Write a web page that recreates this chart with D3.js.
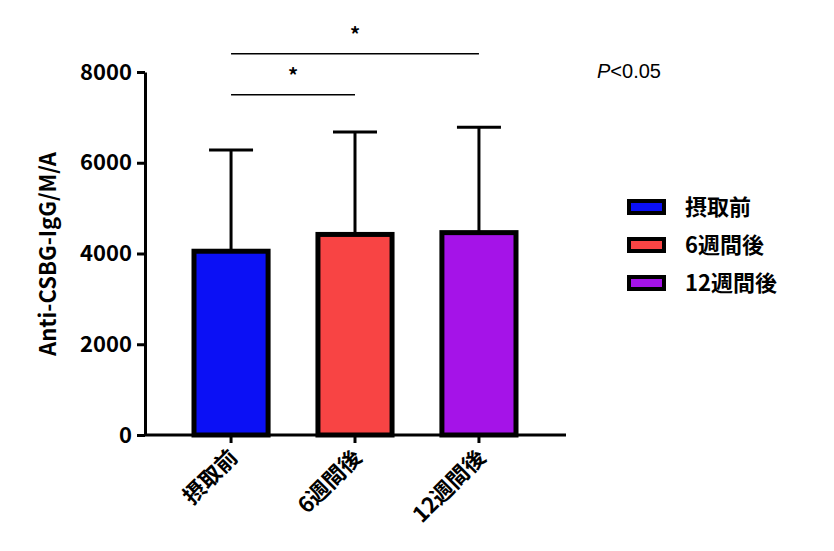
<!DOCTYPE html>
<html><head><meta charset="utf-8">
<script src="https://cdn.jsdelivr.net/npm/d3@7"></script>
<style>body{margin:0;background:#fff}</style>
</head><body>
<svg id="chart" width="834" height="551"></svg>
<script>
var groups = [ "摂取前", "6週間後", "12週間後" ];
var means = [ 4050, 4420, 4460 ];
var sdTops = [ 6280, 6680, 6780 ];
var colors = [ "#0b10f5", "#f84444", "#a513e8" ];
var yTicks = [ 0, 2000, 4000, 6000, 8000 ];
var sigPairs = [ [ 0, 1, 7500 ], [ 0, 2, 8400 ] ];

var font = "'Noto Sans CJK JP', 'DejaVu Sans', sans-serif";
var svg = d3.select( "#chart" );

var y = d3.scaleLinear().domain( [ 0, 8000 ] ).range( [ 435, 72 ] );
var x = d3.scaleBand().domain( groups ).range( [ 192, 518 ] ).paddingInner( 0.37 ).paddingOuter( 0 );

// y axis
var yAxis = svg.append( "g" ).attr( "transform", "translate(145,0)" )
  .call( d3.axisLeft( y ).tickValues( yTicks ).tickFormat( d3.format( "d" ) ).tickSize( 8 ).tickSizeOuter( 0 ) );
yAxis.select( ".domain" ).attr( "stroke", "#000" ).attr( "stroke-width", 3 );
yAxis.selectAll( ".tick line" ).attr( "stroke-width", 3 );
yAxis.selectAll( "text" ).attr( "font-family", font ).attr( "font-size", 22 ).attr( "font-weight", "bold" ).attr( "fill", "#000" ).attr( "dx", -2 );

// x axis
var xAxis = svg.append( "g" ).attr( "transform", "translate(0,435)" );
xAxis.append( "line" ).attr( "x1", 144 ).attr( "x2", 566 ).attr( "stroke", "#000" ).attr( "stroke-width", 3 );
groups.forEach( function( g ) {
  var cx = x( g ) + x.bandwidth() / 2;
  xAxis.append( "line" ).attr( "x1", cx ).attr( "x2", cx ).attr( "y1", 0 ).attr( "y2", 8 ).attr( "stroke", "#000" ).attr( "stroke-width", 3 );
  xAxis.append( "text" ).text( g )
    .attr( "transform", "translate(" + ( cx + 8 ) + ",24) rotate(-45)" )
    .attr( "text-anchor", "end" ).attr( "font-family", font ).attr( "font-size", 22 ).attr( "font-weight", "bold" );
});

svg.append( "text" ).text( "Anti-CSBG-IgG/M/A" )
  .attr( "transform", "translate(56,254) rotate(-90)" ).attr( "text-anchor", "middle" )
  .attr( "font-family", font ).attr( "font-size", 22 ).attr( "font-weight", "bold" );

// error bars
groups.forEach( function( g, i ) {
  var cx = x( g ) + x.bandwidth() / 2;
  svg.append( "line" ).attr( "x1", cx ).attr( "x2", cx ).attr( "y1", y( means[ i ] ) ).attr( "y2", y( sdTops[ i ] ) ).attr( "stroke", "#000" ).attr( "stroke-width", 3 );
  svg.append( "line" ).attr( "x1", cx - 22 ).attr( "x2", cx + 22 ).attr( "y1", y( sdTops[ i ] ) ).attr( "y2", y( sdTops[ i ] ) ).attr( "stroke", "#000" ).attr( "stroke-width", 3 );
});

// bars
svg.selectAll( "rect.bar" ).data( groups ).enter().append( "rect" )
  .attr( "x", function( d ) { return x( d ) + 2; } )
  .attr( "width", x.bandwidth() - 4 )
  .attr( "y", function( d, i ) { return y( means[ i ] ); } )
  .attr( "height", function( d, i ) { return 435 - y( means[ i ] ); } )
  .attr( "fill", function( d, i ) { return colors[ i ]; } )
  .attr( "stroke", "#000" ).attr( "stroke-width", 5 );

// significance
sigPairs.forEach( function( p ) {
  var x1 = x( groups[ p[ 0 ] ] ) + x.bandwidth() / 2;
  var x2 = x( groups[ p[ 1 ] ] ) + x.bandwidth() / 2;
  svg.append( "line" ).attr( "x1", x1 ).attr( "x2", x2 ).attr( "y1", y( p[ 2 ] ) ).attr( "y2", y( p[ 2 ] ) ).attr( "stroke", "#000" ).attr( "stroke-width", 1.5 );
  svg.append( "text" ).text( "*" ).attr( "x", ( x1 + x2 ) / 2 ).attr( "y", y( p[ 2 ] ) - 12 )
    .attr( "text-anchor", "middle" ).attr( "font-family", font ).attr( "font-size", 20 ).attr( "font-weight", "bold" );
});

var pt = svg.append( "text" ).attr( "x", 597 ).attr( "y", 78 ).attr( "font-family", "'Liberation Sans', Arial, sans-serif" ).attr( "font-size", 20 );
pt.append( "tspan" ).attr( "font-style", "italic" ).text( "P" );
pt.append( "tspan" ).text( "<0.05" );

// legend
groups.forEach( function( g, i ) {
  var ly = 207 + i * 38;
  svg.append( "rect" ).attr( "x", 629 ).attr( "y", ly - 6 ).attr( "width", 35 ).attr( "height", 12 )
    .attr( "fill", colors[ i ] ).attr( "stroke", "#000" ).attr( "stroke-width", 4 );
  svg.append( "text" ).text( g ).attr( "x", 685 ).attr( "y", ly + 8 )
    .attr( "font-family", font ).attr( "font-size", 22 ).attr( "font-weight", "bold" );
});
</script>
</body></html>
